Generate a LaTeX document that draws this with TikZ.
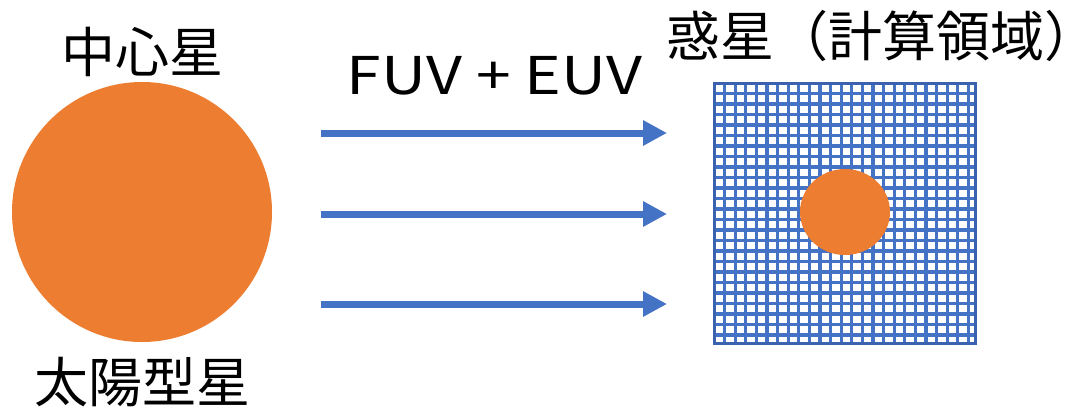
\documentclass[tikz,border=0pt]{standalone}
\usepackage{fontspec}
\setmainfont{Noto Sans CJK JP}
\newfontfamily\widelatin[FakeStretch=1.2]{Noto Sans CJK JP}
\usetikzlibrary{arrows.meta,shapes.geometric}
\definecolor{orng}{HTML}{ED7D31}
\definecolor{blu}{HTML}{4472C4}
\definecolor{bluedge}{HTML}{3A62AE}
\tikzset{
  lbl/.style={inner sep=0pt, font=\fontsize{54}{54}\selectfont},
  latinlbl/.style={inner sep=0pt, font=\widelatin\fontsize{52}{52}\selectfont},
  ray/.style={draw=blu, line width=7pt, -{Triangle[length=24pt,width=24pt]}},
  gridline/.style={draw=blu, line width=3.2pt},
}
\begin{document}
\begin{tikzpicture}[x=1pt,y=-1pt]
\useasboundingbox (0,0) rectangle (1075,410);
\fill[white] (0,0) rectangle (1075,410);
% central star
\node[circle, fill=orng, minimum size=260pt, inner sep=0pt] (star) at (142,212) {};
\node[lbl] (startop) at (142.5,52) {中心星};
\node[lbl] (starbot) at (142.5,382) {太陽型星};
% grid (computational domain)
\begin{scope}
\clip (714,83) rectangle (975,343);
\foreach \k in {0,...,25} {
  \draw[gridline] ({714+10.6*\k},83) -- ({714+10.6*\k},343);
  \draw[gridline] (714,{83+10.5*\k}) -- (975,{83+10.5*\k});
}
\end{scope}
\draw[bluedge, line width=3pt] (714,83) rectangle (975,343);
\node[ellipse, fill=orng, minimum width=90pt, minimum height=86pt, inner sep=0pt] (planet) at (845,212) {};
\node[lbl] (planetlbl) at (869,36) {惑星（計算領域{\addfontfeature{RawFeature=+halt}）}};
% rays
\node[latinlbl] (rays) at (494.5,76) {FUV + EUV};
\coordinate (a1) at (321,133); \coordinate (b1) at (667,133);
\coordinate (a2) at (321,214); \coordinate (b2) at (667,214);
\coordinate (a3) at (321,304); \coordinate (b3) at (667,304);
\draw[ray] (a1) -- (b1);
\draw[ray] (a2) -- (b2);
\draw[ray] (a3) -- (b3);
\end{tikzpicture}
\end{document}
